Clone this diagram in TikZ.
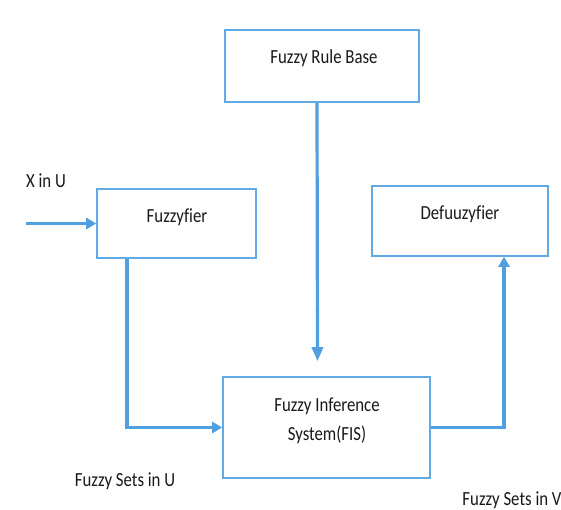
\documentclass[tikz,border=0pt]{standalone}
\usepackage{fontspec}
\setmainfont{Carlito}[FakeStretch=0.84, Ligatures=NoCommon]
\usetikzlibrary{arrows.meta}
\definecolor{boxblue}{RGB}{98,170,228}
\definecolor{arrblue}{RGB}{80,160,225}
\definecolor{txt}{RGB}{25,25,25}
\tikzset{
  box/.style={draw=boxblue, line width=1.6pt, fill=white, inner sep=0pt, rectangle},
  lbl/.style={anchor=base, inner sep=0pt, text=txt, font=\fontsize{20}{22}\selectfont},
  conn/.style={draw=arrblue, line width=3.2pt, -{Triangle[width=11pt,length=10pt]}}
}
\begin{document}
\begin{tikzpicture}[x=1pt,y=-1pt]
\useasboundingbox (0,0) rectangle (561,509);
\fill[white] (0,0) rectangle (561,509);
\clip (0,0) rectangle (561,509);
% boxes
\node[box, minimum width=194pt, minimum height=72pt] (rule) at (322,66) {};
\node[box, minimum width=159pt, minimum height=69pt] (fuzz) at (176.5,223.5) {};
\node[box, minimum width=176pt, minimum height=70pt] (def) at (460,221) {};
\node[box, minimum width=207pt, minimum height=101pt] (fis) at (326.5,427.5) {};
% texts
\node[lbl] (trule) at (324,63) {Fuzzy Rule Base};
\node[lbl] (tfuzz) at (177,222.5) {Fuzzyfier};
\node[lbl] (tdef) at (460,219) {Defuuzyfier};
\node[lbl] (tfis1) at (327,411) {Fuzzy Inference};
\node[lbl] (tfis2) at (327,440) {System(FIS)};
\node[lbl] (txin) at (46,187) {X in U};
\node[lbl] (tsu) at (125,486) {Fuzzy Sets in U};
\node[lbl] (tsv) at (512,505) {Fuzzy Sets in V};
% connectors
\coordinate (xin) at (26,223.5);
\draw[conn] (xin) -- (fuzz.west);
\draw[conn, -{Triangle[width=11pt,length=14pt]}] ([xshift=-5pt]rule.south) -- ([xshift=-9pt,yshift=15pt]fis.north);
\draw[conn] ([xshift=-49.5pt]fuzz.south) |- (fis.west);
\draw[conn, line width=3.6pt] (fis.east) -| ([xshift=44pt]def.south);
\end{tikzpicture}
\end{document}
